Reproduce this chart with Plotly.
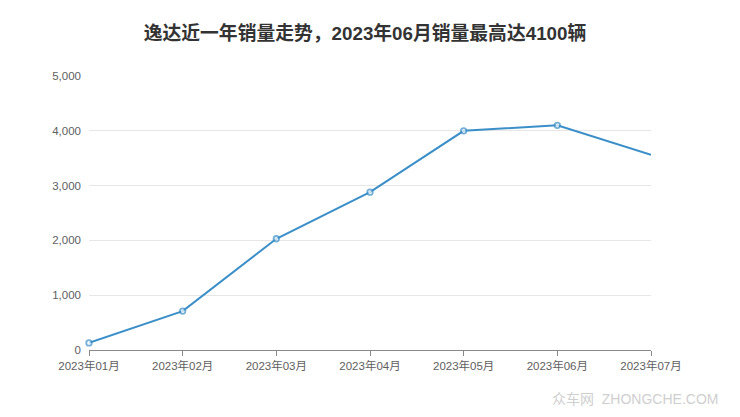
import plotly.graph_objects as go

months = ["2023年01月", "2023年02月", "2023年03月", "2023年04月", "2023年05月", "2023年06月", "2023年07月"]
sales = [130, 710, 2030, 2880, 4000, 4100, 3560]
y_ticks = [0, 1000, 2000, 3000, 4000, 5000]
y_labels = ["0", "1,000", "2,000", "3,000", "4,000", "5,000"]

xs = list(range(len(months)))
sizes = [5.5] * (len(months) - 1) + [0]

fig = go.Figure()
fig.add_trace(go.Scatter(
    x=xs, y=sales, mode="lines+markers",
    line=dict(color="#3b8fc8", width=2),
    marker=dict(symbol="circle", size=sizes, color="white",
                line=dict(color="#3b8fc8", width=1.8)),
    cliponaxis=False, showlegend=False,
))

font_family = "Liberation Sans, Noto Sans CJK SC, sans-serif"
fig.update_layout(
    width=732, height=409,
    margin=dict(l=81, r=89, t=68, b=67, autoexpand=False),
    plot_bgcolor="white", paper_bgcolor="white",
    title=dict(text="<b>逸达近一年销量走势，2023年06月销量最高达4100辆</b>",
               x=(365 - 8) / 732, xanchor="center", y=1 - 25 / 409, yanchor="middle",
               font=dict(size=18.8, color="#333333", family=font_family)),
    xaxis=dict(range=[0, 6], tickvals=xs, ticktext=months,
               showgrid=False, zeroline=False,
               showline=True, linecolor="#888888", linewidth=1,
               ticks="outside", ticklen=5, tickcolor="#888888",
               tickfont=dict(size=11.5, color="#606060", family=font_family)),
    yaxis=dict(range=[0, 5000], tickvals=y_ticks, ticktext=y_labels,
               showgrid=True, gridcolor="#e6e6e6", gridwidth=1,
               zeroline=False, showline=False, ticks="",
               ticklabelstandoff=7,
               tickfont=dict(size=11.5, color="#606060", family=font_family)),
    annotations=[dict(text="众车网  ZHONGCHE.COM", xref="paper", yref="paper",
                      x=1.123, y=-0.179, xanchor="right", yanchor="middle",
                      showarrow=False,
                      font=dict(size=14, color="#cfcfcf", family=font_family))],
)

fig.write_html("out.html")
